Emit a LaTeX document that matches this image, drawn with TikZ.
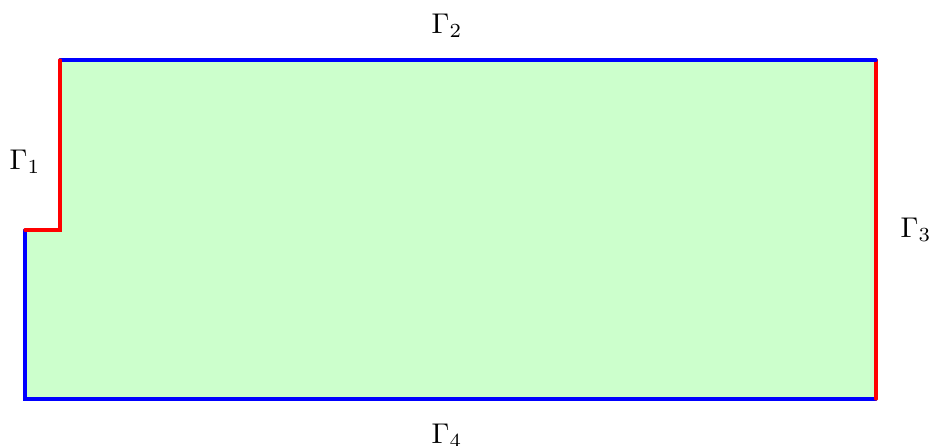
\documentclass[tikz,border=0pt]{standalone}
\begin{document}
\begin{tikzpicture}[x=0.35pt,y=-0.35pt,
  edge/.style={line width=1.1pt,line cap=round},
  lbl/.style={inner sep=0pt}]
\useasboundingbox (0,0) rectangle (933,446);
\coordinate (bl) at (25,399);
\coordinate (br) at (876,399);
\coordinate (tr) at (876,60);
\coordinate (tl) at (60,60);
\coordinate (sr) at (60,230);
\coordinate (sl) at (25,230);
\fill[green!20] (bl) -- (br) -- (tr) -- (tl) -- (sr) -- (sl) -- cycle;
\draw[edge,blue] (sl) -- (bl) -- (br);
\draw[edge,red] (br) -- (tr);
\draw[edge,blue] (tr) -- (tl);
\draw[edge,red] (tl) -- (sr) -- (sl);
\node[lbl] (g1) at (25,161.5) {$\Gamma_1$};
\node[lbl] (g2) at (447,25.5) {$\Gamma_2$};
\node[lbl] (g3) at (916,229.5) {$\Gamma_3$};
\node[lbl] (g4) at (447,435.5) {$\Gamma_4$};
\end{tikzpicture}
\end{document}
